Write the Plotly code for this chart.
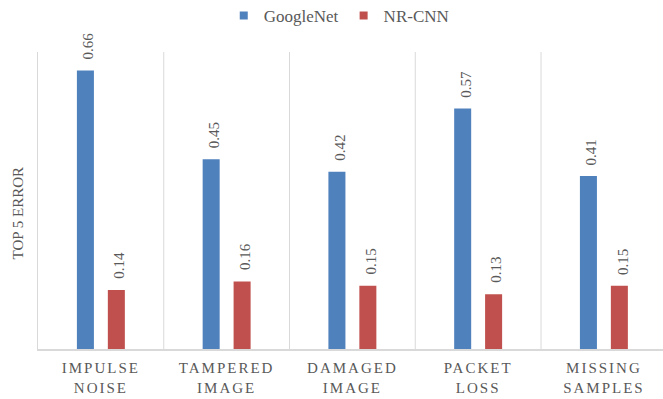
import plotly.graph_objects as go

categories = ["IMPULSE<br>NOISE", "TAMPERED<br>IMAGE", "DAMAGED<br>IMAGE", "PACKET<br>LOSS", "MISSING<br>SAMPLES"]
googlenet = [0.66, 0.45, 0.42, 0.57, 0.41]
nrcnn = [0.14, 0.16, 0.15, 0.13, 0.15]
series_names = ["GoogleNet", "NR-CNN"]
colors = ["#4F81BD", "#C0504D"]
y_title = "TOP 5 ERROR"

FONT = "Liberation Serif, Times New Roman, serif"
GREY = "#595959"
LINE = "#D9D9D9"
BARGAP = 0.508
GROUPGAP = 0.45

idx = list(range(len(categories)))
fig = go.Figure()
for name, vals, col in zip(series_names, [googlenet, nrcnn], colors):
    fig.add_trace(go.Bar(x=idx, y=vals, name=name, marker=dict(color=col, line=dict(width=0)),
                         showlegend=False, hoverinfo="skip"))
    fig.add_trace(go.Scatter(x=[None], y=[None], mode="markers", name=name,
                             marker=dict(symbol="square", size=8, color=col)))

slot = (1 - BARGAP) / 2
for k, vals in enumerate([googlenet, nrcnn]):
    off = (k - 0.5) * slot
    for i, v in zip(idx, vals):
        fig.add_annotation(x=i + off, y=v, text=f"{v:.2f}", textangle=-90, showarrow=False,
                           xanchor="center", yanchor="bottom", yshift=9, xshift=3,
                           font=dict(family=FONT, size=15, color=GREY))

for i in idx:
    fig.add_shape(type="line", x0=i + 0.5, x1=i + 0.5, y0=0, y1=1, xref="x", yref="paper",
                  line=dict(color=LINE, width=1), layer="below")

# y axis title placed as rotated text left of the plot
fig.add_annotation(text=y_title, textangle=-90, showarrow=False, xref="paper", yref="paper",
                   x=0, xshift=-21, y=0.5, yshift=-13, xanchor="center", yanchor="middle",
                   font=dict(family=FONT, size=15, color=GREY))

fig.update_layout(
    width=663, height=399,
    margin=dict(l=38, r=0, t=52, b=50),
    paper_bgcolor="white", plot_bgcolor="white",
    barmode="group", bargap=BARGAP, bargroupgap=GROUPGAP,
    font=dict(family=FONT, color=GREY),
    legend=dict(orientation="h", x=0.482, xanchor="center", yref="container", y=0.96, yanchor="middle",
                font=dict(family=FONT, size=17, color=GREY), itemwidth=30,
                bgcolor="rgba(0,0,0,0)", tracegroupgap=0),
    xaxis=dict(range=[-0.5, 4.47], tickmode="array", tickvals=idx, ticktext=categories,
               showline=True, linecolor=LINE, linewidth=2, ticks="", showgrid=False, zeroline=False,
               ticklabelstandoff=4,
               tickfont=dict(family=FONT, size=15, color=GREY)),
    yaxis=dict(range=[0, 0.704], showticklabels=False, showgrid=False, zeroline=False,
               showline=True, linecolor=LINE, linewidth=1, ticks=""),
)

post = """
var s=document.createElement('style');
s.innerHTML='.xtick text{letter-spacing:2px;}';
document.head.appendChild(s);
"""
fig.write_html("out.html", post_script=post)
